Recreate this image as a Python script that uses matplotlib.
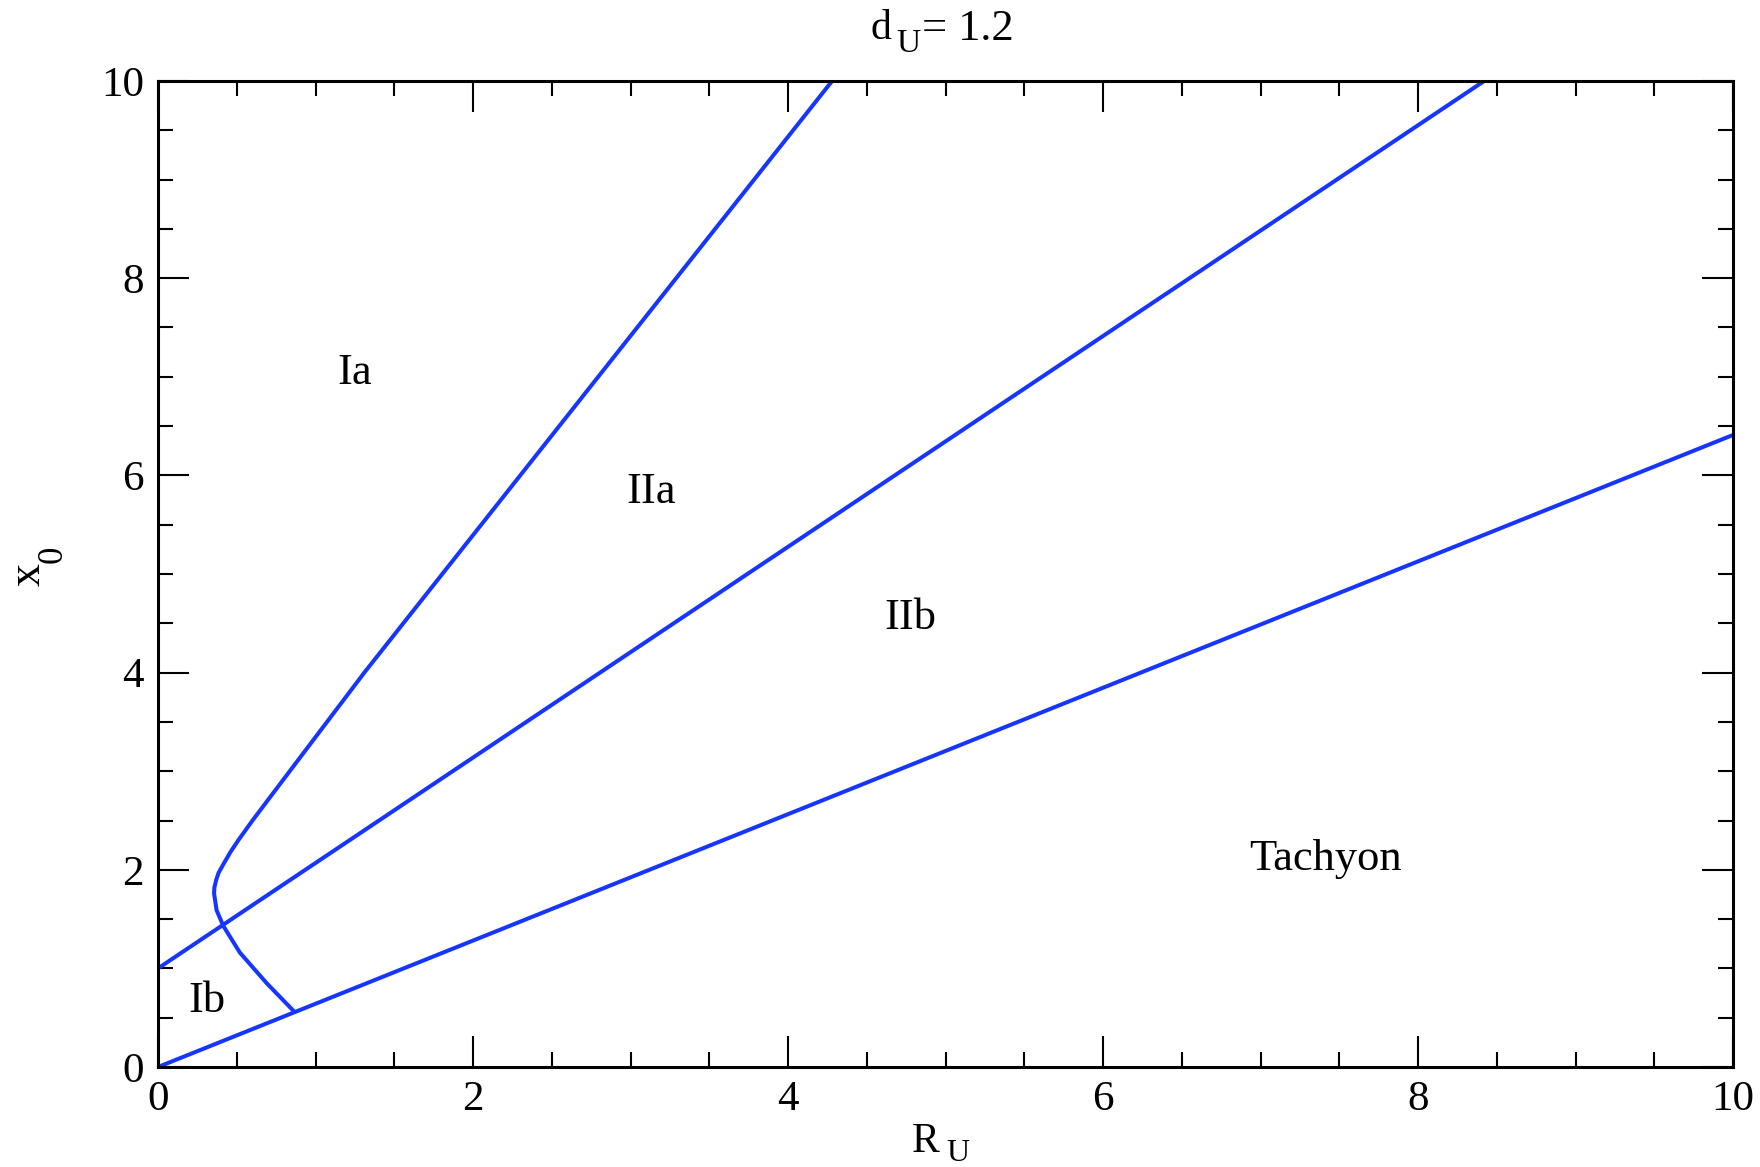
import matplotlib
matplotlib.use("Agg")
import matplotlib.pyplot as plt
from matplotlib.ticker import MultipleLocator

plt.rcParams["font.family"] = ["Liberation Serif", "DejaVu Serif"]

W, H = 1760, 1167

# phase boundaries in the (R_U, x0) plane for d_U = 1.2
tachyon_r = [0.0, 10.0]
tachyon_x = [0.0, 6.41]

mid_r = [0.0, 8.42]
mid_x = [1.0, 10.0]

# bent boundary: lower branch ends on the tachyon line, upper branch runs to the top
bend_r = [0.86, 0.69, 0.52, 0.415, 0.372, 0.356, 0.358, 0.37, 0.385, 0.42, 0.46,
          0.51, 0.60, 0.77, 1.31, 2.30, 3.29, 4.28]
bend_x = [0.57, 0.85, 1.16, 1.43, 1.59, 1.76, 1.82, 1.90, 1.97, 2.07, 2.18,
          2.30, 2.50, 2.86, 4.00, 6.00, 8.00, 10.0]

region_names = ["Ia", "IIa", "IIb", "Tachyon", "Ib"]
region_r = [1.25, 3.13, 4.78, 7.41, 0.31]
region_x = [7.04, 5.83, 4.55, 2.11, 0.67]

BLUE = "#1636ff"


def px_text(fig, x, y, s, size, **kw):
    # place text by pixel position (origin top-left), baseline anchored
    fig.text(x / W, 1 - y / H, s, fontsize=size, va="baseline", ha="left", **kw)


fig = plt.figure(figsize=(W / 100, H / 100), dpi=100)
ax = fig.add_axes([158 / W, 1 - 1067 / H, (1733 - 158) / W, (1067 - 81) / H])

for r, x in [(tachyon_r, tachyon_x), (mid_r, mid_x), (bend_r, bend_x)]:
    ax.plot(r, x, color=BLUE, lw=2.9, solid_joinstyle="round")

for name, r, x in zip(region_names, region_r, region_x):
    ax.text(r, x, name, fontsize=32, ha="center", va="center")

ax.set_xlim(0, 10)
ax.set_ylim(0, 10)
ax.xaxis.set_major_locator(MultipleLocator(2))
ax.xaxis.set_minor_locator(MultipleLocator(0.5))
ax.yaxis.set_major_locator(MultipleLocator(2))
ax.yaxis.set_minor_locator(MultipleLocator(0.5))
ax.tick_params(which="both", direction="in", top=True, right=True, width=1.5,
               labelsize=31)
ax.tick_params(which="major", length=22, pad=10)
ax.tick_params(which="minor", length=11)
for s in ax.spines.values():
    s.set_linewidth(2.2)

# title d_U = 1.2 with a deep subscript
px_text(fig, 870, 39, "d", 30)
px_text(fig, 896, 52, "U", 24)
px_text(fig, 922, 40.5, "= 1.2", 32)

# x label R_U
px_text(fig, 912, 1152, "R", 30)
px_text(fig, 946, 1161, "U", 23)

# y label x_0, rotated
fig.text(40 / W, 1 - 586 / H, "x", fontsize=33, rotation=90,
         rotation_mode="anchor", ha="left", va="baseline")
fig.text(62 / W, 1 - 563 / H, "0", fontsize=25, rotation=90,
         rotation_mode="anchor", ha="left", va="baseline")

fig.savefig("out.png", dpi=100)
